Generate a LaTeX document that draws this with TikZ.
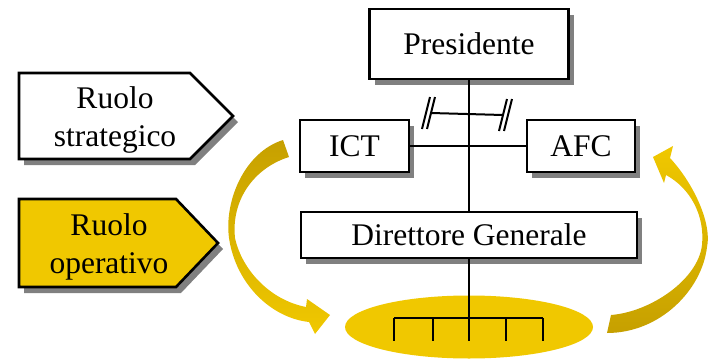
\documentclass[tikz,border=0pt]{standalone}
\usepackage{fontspec}
\setmainfont{Liberation Serif}
\usetikzlibrary{shadows,shapes.geometric,calc}
\definecolor{orggold}{RGB}{240,200,0}
\definecolor{orgdark}{RGB}{198,160,0}
\definecolor{orgshadow}{RGB}{128,128,128}
\newcommand{\orgfont}{\fontsize{31.5}{37.5}\selectfont}
\tikzset{
  orgshade/.style={drop shadow={shadow xshift=5pt,shadow yshift=-6pt,fill=orgshadow,opacity=1}},
  orgbox/.style={draw,line width=2.6pt,fill=white,orgshade,font=\orgfont,inner sep=0pt},
  orgline/.style={line width=2pt},
  rolelabel/.style={font=\orgfont,align=center,inner sep=0pt}
}

\begin{document}
\begin{tikzpicture}[x=1pt,y=-1pt]
  \useasboundingbox (0,0) rectangle (713,359);
  % --- role tags on the left ---
  \draw[line width=2.6pt,fill=white,orgshade] (19,73) -- (190,73) -- (233,116) -- (190,159) -- (19,159) -- cycle;
  \node[rolelabel] (strat) at (115,120) {Ruolo\\strategico};
  \draw[line width=2.6pt,fill=orggold,orgshade] (19,199) -- (176,199) -- (218,243) -- (176,287) -- (19,287) -- cycle;
  \node[rolelabel] (oper) at (109,247) {Ruolo\\operativo};
  % --- curved arrows (strategic <-> operational) ---
  \shade[top color=orgdark,bottom color=orggold] (283,140) .. controls (245,152) and (224,200) .. (229,238)
    .. controls (236,285) and (272,318) .. (309,322) -- (315,334) -- (330,315) -- (307,299) -- (306,307)
    .. controls (270,300) and (242,270) .. (235,238) .. controls (231,200) and (254,168) .. (289,157) -- cycle;
  \shade[top color=orggold,bottom color=orgdark] (653,157) -- (673,146) -- (670,158)
    .. controls (695,185) and (712,225) .. (707,247) .. controls (702,290) and (660,333) .. (607,333)
    -- (611,315) .. controls (650,312) and (698,280) .. (702,245)
    .. controls (705,215) and (690,188) .. (666,175) -- (664,183) -- cycle;
  % --- org chart ---
  \node[ellipse,fill=orggold,minimum width=248pt,minimum height=63pt,inner sep=0pt] (ops) at (469,327) {};
  \node[orgbox,minimum width=199pt,minimum height=70pt] (pres) at (469,44) {Presidente};
  \node[orgbox,minimum width=109pt,minimum height=52pt] (ict) at (354.5,146) {ICT};
  \node[orgbox,minimum width=108pt,minimum height=52pt] (afc) at (581,146) {AFC};
  \node[orgbox,minimum width=336pt,minimum height=46pt] (dg) at (469,235) {Direttore Generale};
  \coordinate (staffL) at (431,113);
  \coordinate (staffR) at (503,115);
  \coordinate (combL) at (394,318);
  \coordinate (combR) at (543,318);
  \coordinate (combM) at (469,341);
  \draw[orgline] (pres.south) -- (dg.north);
  \draw[orgline] (ict.east) -- (afc.west);
  \draw[orgline] (staffL) -- (staffR);
  \foreach \c/\d in {staffL/-5,staffR/5}{%
    \draw[orgline] ([shift={(4,-16)}]\c) -- ([shift={(-4,16)}]\c);
    \draw[orgline] ([shift={(\d+4,-16)}]\c) -- ([shift={(\d-4,16)}]\c);}
  \draw[orgline] (dg.south) -- (combM);
  \draw[orgline] (combL) -- (combR);
  \foreach \tx in {394,433,506,543}
    \draw[orgline] (\tx,318) -- (\tx,341);
\end{tikzpicture}
\end{document}
